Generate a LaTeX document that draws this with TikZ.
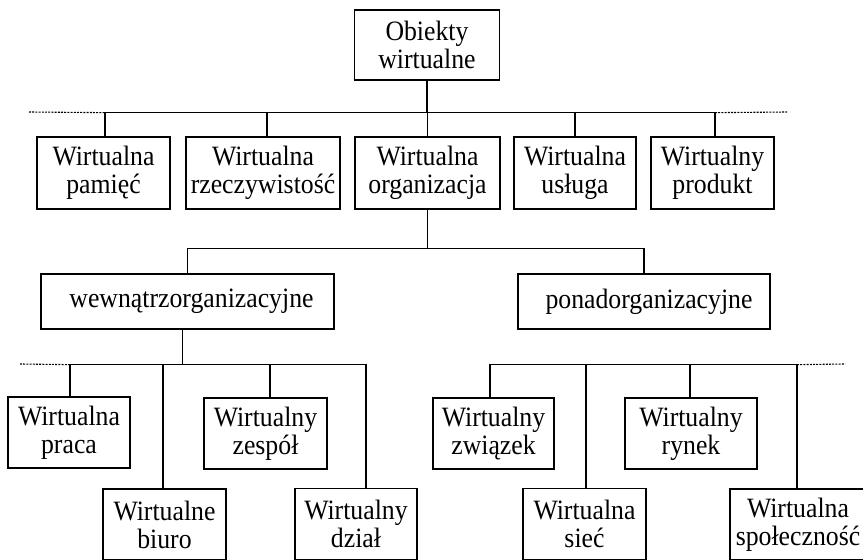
\documentclass[tikz,border=0pt]{standalone}
\usepackage{fontspec}
\setmainfont{Liberation Serif}[FakeStretch=0.92]
\usepackage{tikz}

\begin{document}
\begin{tikzpicture}[x=1bp,y=-1bp,
    box/.style={draw, line width=1.3bp, align=center, inner sep=0pt, minimum height=71bp,
        font=\fontsize{28bp}{28bp}\selectfont},
    link/.style={line width=1.1bp},
    ext/.style={line width=1.1bp, dash pattern=on 2bp off 1.2bp}]
    \path[use as bounding box, clip] (0,0) rectangle (863,560);

    \node[box, minimum width=145bp, minimum height=70bp] (obj) at (427,45) {Obiekty\\wirtualne};

    \node[box, minimum width=133bp, minimum height=72bp] (pamiec) at (103.5,173) {Wirtualna\\pamięć};
    \node[box, minimum width=154bp, minimum height=72bp] (rzecz) at (263,173) {Wirtualna\\rzeczywistość};
    \node[box, minimum width=145bp, minimum height=72bp] (org) at (427.5,173) {Wirtualna\\organizacja};
    \node[box, minimum width=122bp, minimum height=72bp] (usluga) at (575,173) {Wirtualna\\usługa};
    \node[box, minimum width=123bp, minimum height=72bp] (produkt) at (712.5,173) {Wirtualny\\produkt};

    \node[box, minimum width=293bp, minimum height=55bp] (wewn) at (187.5,301.5) {\hspace{8bp}wewnątrzorganizacyjne};
    \node[box, minimum width=252bp, minimum height=55bp] (ponad) at (644,301.5) {\hspace{10bp}ponadorganizacyjne};

    \node[box, minimum width=122bp] (praca) at (69,432.5) {Wirtualna\\praca};
    \node[box, minimum width=123bp] (biuro) at (164.5,524.5) {Wirtualne\\biuro};
    \node[box, minimum width=123bp] (zespol) at (265.5,433.5) {Wirtualny\\zespół};
    \node[box, minimum width=122bp] (dzial) at (356,524) {Wirtualny\\dział};
    \node[box, minimum width=121bp] (zwiazek) at (493.5,433.5) {Wirtualny\\związek};
    \node[box, minimum width=123bp] (siec) at (584.5,524) {Wirtualna\\sieć};
    \node[box, minimum width=132bp] (rynek) at (691,433.5) {Wirtualny\\rynek};
    \node[box, minimum width=136bp] (spol) at (798,524.5) {Wirtualna\\społeczność};

    \draw[link] (obj.south) -- ++(0,32) coordinate (b1);
    \foreach \n/\s in {pamiec/1.5,rzecz/4,org/0,usluga/0,produkt/2.5}
        \draw[link] (b1) -| ([xshift=\s bp]\n.north);
    \coordinate (dl1) at (29,112);
    \coordinate (dr1) at (787,112);
    \draw[ext] (dl1) -- ([xshift=1.5bp]pamiec.north |- b1);
    \draw[ext] ([xshift=2.5bp]produkt.north |- b1) -- (dr1);

    \draw[link] (org.south) -- ++(0,39) coordinate (b2);
    \draw[link] (b2) -| (wewn.north);
    \draw[link] (b2) -| (ponad.north);

    \draw[link] ([xshift=-5bp]wewn.south) -- ++(0,35) coordinate (b3);
    \foreach \n/\s in {praca/1,biuro/-1.5,zespol/4.5,dzial/10}
        \draw[link] (b3) -| ([xshift=\s bp]\n.north);
    \coordinate (dl3) at (20,364);
    \draw[ext] (dl3) -- ([xshift=1bp]praca.north |- b3);

    \draw[link] ([xshift=-3.5bp]zwiazek.north) |- ([xshift=-1bp]spol.north |- b3) -- ([xshift=-1bp]spol.north);
    \draw[link] ([xshift=1.5bp]siec.north) -- ([xshift=1.5bp]siec.north |- b3);
    \draw[link] ([xshift=-1bp]rynek.north) -- ([xshift=-1bp]rynek.north |- b3);
    \coordinate (dr3) at (845,364);
    \draw[ext] ([xshift=-1bp]spol.north |- b3) -- (dr3);
\end{tikzpicture}
\end{document}
